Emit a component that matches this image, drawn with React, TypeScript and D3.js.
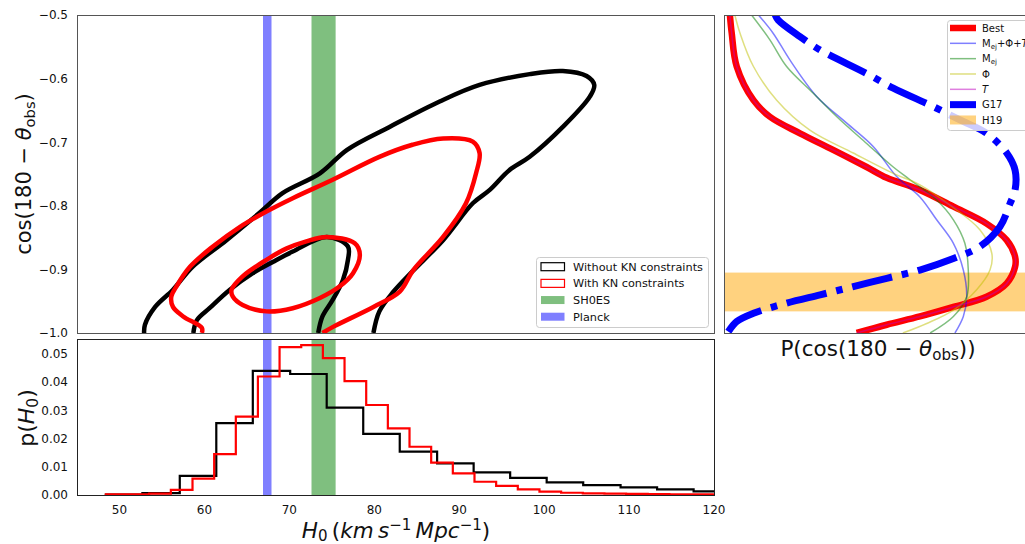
import React, { useEffect, useRef } from "react";
import * as d3 from "d3";

// ---- H0 histograms (bin edges, density) ----
const edgesNoKN = [48.4, 52.7, 57.1, 61.4, 65.7, 70.1, 74.4, 78.7, 83.0, 87.4, 91.7, 96.0, 100.3, 104.6, 109.0, 113.3, 117.6, 122.0];
const densNoKN = [0.0001, 0.0007, 0.0068, 0.0255, 0.044, 0.0429, 0.031, 0.0217, 0.0154, 0.0112, 0.008, 0.0061, 0.0045, 0.0035, 0.0027, 0.002, 0.0013];
const edgesKN = [48.4, 50.95, 53.5, 56.05, 58.6, 61.15, 63.7, 66.3, 68.85, 71.4, 73.95, 76.5, 79.05, 81.6, 84.15, 86.7, 89.25, 91.8, 94.35, 96.9, 99.45, 102.0, 104.55, 107.1, 109.65, 112.2, 114.75, 117.3, 119.85, 122.4];
const densKN = [0.0002, 0.0002, 0.0005, 0.0018, 0.0058, 0.0145, 0.0278, 0.042, 0.0524, 0.0531, 0.0485, 0.0404, 0.0319, 0.0236, 0.0171, 0.0115, 0.0077, 0.0047, 0.0032, 0.002, 0.0012, 0.0008, 0.0006, 0.0005, 0.0004, 0.0003, 0.0002, 0.0002, 0.0001];

// ---- 2D contours [H0, cos(180 - theta_obs)] ----
const outerNoKN: [number, number][] = [
  [52.9, -1.0], [53.0, -0.987], [54.2, -0.959], [56.3, -0.932], [58.6, -0.896], [62.6, -0.854],
  [66.5, -0.811], [69.2, -0.78], [73.6, -0.749], [76.8, -0.712], [81.8, -0.676], [87.7, -0.636],
  [92.4, -0.61], [98.3, -0.593], [102.2, -0.588], [105.0, -0.596], [105.9, -0.61], [105.4, -0.628],
  [102.2, -0.676], [98.3, -0.723], [95.9, -0.744], [93.6, -0.775], [91.6, -0.796], [88.1, -0.854],
  [84.5, -0.903], [82.2, -0.936], [80.6, -0.966], [79.9, -1.0],
];
const innerNoKN: [number, number][] = [
  [58.7, -1.0], [59.1, -0.98], [60.6, -0.961], [63.0, -0.932], [65.7, -0.906], [68.1, -0.888],
  [70.4, -0.872], [74.4, -0.849], [76.9, -0.864], [76.9, -0.885], [76.3, -0.917], [75.1, -0.948],
  [73.9, -0.974], [73.4, -1.0],
];
const outerKN: [number, number][] = [
  [59.7, -1.0], [59.7, -0.992], [57.5, -0.974], [56.3, -0.959], [56.1, -0.943], [56.7, -0.927],
  [58.3, -0.896], [61.0, -0.864], [64.2, -0.833], [67.3, -0.809], [70.4, -0.788], [75.1, -0.759],
  [80.6, -0.723], [84.5, -0.704], [88.1, -0.694], [91.6, -0.699], [92.4, -0.717], [92.0, -0.748],
  [90.8, -0.796], [88.1, -0.849], [84.6, -0.901], [83.0, -0.935], [79.9, -0.959], [75.2, -0.99],
  [73.9, -1.0],
];
const innerKN: [number, number][] = [
  [63.35, -0.943], [63.2, -0.932], [64.5, -0.911], [67.3, -0.885], [69.7, -0.867], [72.0, -0.856],
  [74.4, -0.849], [77.7, -0.859], [78.3, -0.877], [77.5, -0.906], [75.9, -0.927], [73.6, -0.945],
  [70.4, -0.961], [67.3, -0.966], [64.5, -0.956],
];

const planckBand = [66.9, 67.9];
const shoesBand = [72.61, 75.45];

// ---- right panel: [cos, P] (arbitrary P units) ----
const pBest: [number, number][] = [
  [-0.5, 0.019], [-0.529, 0.025], [-0.581, 0.041], [-0.634, 0.095], [-0.66, 0.148], [-0.686, 0.245],
  [-0.712, 0.352], [-0.739, 0.46], [-0.756, 0.525], [-0.775, 0.632], [-0.801, 0.739], [-0.828, 0.847],
  [-0.854, 0.912], [-0.88, 0.939], [-0.896, 0.939], [-0.922, 0.912], [-0.943, 0.847], [-0.959, 0.74],
  [-0.974, 0.632], [-0.987, 0.525], [-1.0, 0.428],
];
const pAll: [number, number][] = [
  [-0.5, 0.111], [-0.529, 0.159], [-0.571, 0.213], [-0.628, 0.299], [-0.67, 0.396], [-0.707, 0.482],
  [-0.754, 0.557], [-0.786, 0.632], [-0.822, 0.686], [-0.859, 0.74], [-0.901, 0.772], [-0.943, 0.783],
  [-0.974, 0.772], [-1.0, 0.745],
];
const pMej: [number, number][] = [
  [-0.5, 0.089], [-0.539, 0.148], [-0.581, 0.202], [-0.623, 0.288], [-0.66, 0.364], [-0.702, 0.46],
  [-0.739, 0.546], [-0.759, 0.6], [-0.791, 0.686], [-0.822, 0.74], [-0.859, 0.777], [-0.901, 0.788],
  [-0.943, 0.783], [-0.974, 0.74], [-1.0, 0.665],
];
const pPhi: [number, number][] = [
  [-0.5, 0.035], [-0.529, 0.052], [-0.581, 0.095], [-0.634, 0.17], [-0.681, 0.277], [-0.717, 0.417],
  [-0.749, 0.546], [-0.767, 0.632], [-0.799, 0.729], [-0.838, 0.826], [-0.875, 0.864], [-0.901, 0.858],
  [-0.932, 0.815], [-0.964, 0.74], [-0.985, 0.654], [-1.0, 0.577],
];
const pT = pBest; // the T-only curve sits on top of the best fit
const pG17: [number, number][] = [
  [-0.5, 0.165], [-0.508, 0.175], [-0.534, 0.245], [-0.555, 0.31], [-0.592, 0.46], [-0.615, 0.546],
  [-0.644, 0.675], [-0.665, 0.761], [-0.686, 0.847], [-0.717, 0.912], [-0.744, 0.939], [-0.775, 0.939],
  [-0.796, 0.923], [-0.833, 0.89], [-0.864, 0.826], [-0.883, 0.74], [-0.901, 0.632], [-0.914, 0.525],
  [-0.927, 0.417], [-0.94, 0.31], [-0.953, 0.202], [-0.969, 0.095], [-0.982, 0.041], [-0.998, 0.014],
];
const h19Band = [-0.966, -0.905];

const xTicks = [50, 60, 70, 80, 90, 100, 110, 120];
const cosTicks = [-0.5, -0.6, -0.7, -0.8, -0.9, -1.0];
const densTicks = [0, 0.01, 0.02, 0.03, 0.04, 0.05];

type Part = { t: string; it?: boolean; sub?: boolean; sup?: boolean };

const FONT = "DejaVu Sans";

function addParts(text: any, parts: Part[], size: number, subK = 0.2, supK = 0.4) {
  let shift = 0;
  parts.forEach((p) => {
    const target = p.sub ? subK * size : p.sup ? -supK * size : 0;
    const ts = text.append("tspan").attr("dy", target - shift).text(p.t);
    shift = target;
    if (p.it) ts.attr("font-style", "italic");
    if (p.sub || p.sup) ts.attr("font-size", size * 0.7);
  });
}

const App = () => {
  const ref = useRef<HTMLDivElement>(null);

  useEffect(() => {
    d3.select(ref.current).select("svg").remove();

    const svg = d3
      .select(ref.current)
      .append("svg")
      .attr("width", 1025)
      .attr("height", 544)
      .style("font-family", FONT)
      .style("background", "#fff");

    // panel boxes
    const mainBox = { x0: 77, x1: 714, y0: 15, y1: 333 };
    const histBox = { x0: 77, x1: 714, y0: 339, y1: 495 };
    const sideBox = { x0: 724, x1: 1034, y0: 15, y1: 333 };

    const x = d3.scaleLinear().domain([45, 120]).range([mainBox.x0, mainBox.x1]);
    const yCos = d3.scaleLinear().domain([-1, -0.5]).range([mainBox.y1, mainBox.y0]);
    const yDen = d3.scaleLinear().domain([0, 0.0553]).range([histBox.y1, histBox.y0]);
    const xP = d3.scaleLinear().domain([0, 1]).range([sideBox.x0, sideBox.x1]);

    const defs = svg.append("defs");
    const clip = (id: string, b: any) =>
      defs.append("clipPath").attr("id", id).append("rect")
        .attr("x", b.x0).attr("y", b.y0).attr("width", b.x1 - b.x0).attr("height", b.y1 - b.y0);
    clip("clipMain", mainBox);
    clip("clipHist", histBox);
    clip("clipSide", sideBox);

    // ---------- main contour panel ----------
    const gMain = svg.append("g").attr("clip-path", "url(#clipMain)");
    const band = (g: any, b: number[], color: string, box: any) =>
      g.append("rect")
        .attr("x", x(b[0])).attr("width", x(b[1]) - x(b[0]))
        .attr("y", box.y0).attr("height", box.y1 - box.y0)
        .attr("fill", color).attr("fill-opacity", 0.5);
    band(gMain, shoesBand, "green", mainBox);
    band(gMain, planckBand, "blue", mainBox);

    const contour = d3.line<[number, number]>()
      .x((d) => x(d[0])).y((d) => yCos(d[1]))
      .curve(d3.curveCatmullRom.alpha(0.5));
    const contourClosed = d3.line<[number, number]>()
      .x((d) => x(d[0])).y((d) => yCos(d[1]))
      .curve(d3.curveCatmullRomClosed.alpha(0.5));

    [
      { d: outerNoKN, c: "black", closed: false },
      { d: innerNoKN, c: "black", closed: false },
      { d: outerKN, c: "red", closed: false },
      { d: innerKN, c: "red", closed: true },
    ].forEach((s) => {
      gMain.append("path")
        .attr("d", (s.closed ? contourClosed : contour)(s.d))
        .attr("fill", "none").attr("stroke", s.c)
        .attr("stroke-width", 4.5).attr("stroke-linejoin", "round");
    });

    // ---------- histogram panel ----------
    const gHist = svg.append("g").attr("clip-path", "url(#clipHist)");
    band(gHist, shoesBand, "green", histBox);
    band(gHist, planckBand, "blue", histBox);

    const stepPts = (edges: number[], dens: number[]) => {
      const pts: [number, number][] = [[edges[0], 0]];
      dens.forEach((v, i) => {
        pts.push([edges[i], v]);
        pts.push([edges[i + 1], v]);
      });
      pts.push([edges[edges.length - 1], 0]);
      return pts;
    };
    const histLine = d3.line<[number, number]>().x((d) => x(d[0])).y((d) => yDen(d[1]));
    gHist.append("path").attr("d", histLine(stepPts(edgesNoKN, densNoKN)))
      .attr("fill", "none").attr("stroke", "black").attr("stroke-width", 2.2);
    gHist.append("path").attr("d", histLine(stepPts(edgesKN, densKN)))
      .attr("fill", "none").attr("stroke", "red").attr("stroke-width", 2.2);

    // ---------- side panel ----------
    const gSide = svg.append("g").attr("clip-path", "url(#clipSide)");
    gSide.append("rect")
      .attr("x", sideBox.x0).attr("width", sideBox.x1 - sideBox.x0)
      .attr("y", yCos(h19Band[1])).attr("height", yCos(h19Band[0]) - yCos(h19Band[1]))
      .attr("fill", "orange").attr("fill-opacity", 0.5);

    const sideLine = d3.line<[number, number]>()
      .x((d) => xP(d[1])).y((d) => yCos(d[0]))
      .curve(d3.curveCatmullRom.alpha(0.5));

    const sideSeries = [
      { d: pBest, c: "red", w: 6.5, o: 1, dash: null },
      { d: pAll, c: "blue", w: 1.5, o: 0.5, dash: null },
      { d: pMej, c: "green", w: 1.5, o: 0.5, dash: null },
      { d: pPhi, c: "#bfbf00", w: 1.5, o: 0.5, dash: null },
      { d: pT, c: "#bf00bf", w: 1.5, o: 0.5, dash: null },
      { d: pG17, c: "blue", w: 7, o: 1, dash: "41,10,6.5,10" },
    ];
    sideSeries.forEach((s) => {
      const p = gSide.append("path").attr("d", sideLine(s.d))
        .attr("fill", "none").attr("stroke", s.c)
        .attr("stroke-opacity", s.o).attr("stroke-width", s.w);
      if (s.dash) p.attr("stroke-dasharray", s.dash);
    });

    // ---------- frames ----------
    const frame = (b: any, color: string, openRight = false) => {
      const g = svg.append("g").attr("stroke", color).attr("stroke-width", 1).attr("fill", "none");
      g.append("line").attr("x1", b.x0).attr("x2", b.x1).attr("y1", b.y0 + 0.5).attr("y2", b.y0 + 0.5);
      g.append("line").attr("x1", b.x0).attr("x2", b.x1).attr("y1", b.y1 + 0.5).attr("y2", b.y1 + 0.5);
      g.append("line").attr("x1", b.x0 + 0.5).attr("x2", b.x0 + 0.5).attr("y1", b.y0).attr("y2", b.y1 + 1);
      if (!openRight) g.append("line").attr("x1", b.x1 + 0.5).attr("x2", b.x1 + 0.5).attr("y1", b.y0).attr("y2", b.y1 + 1);
    };
    frame(mainBox, "#555");
    frame(histBox, "#222");
    frame(sideBox, "#555", true);

    // ---------- tick labels ----------
    const tick = svg.append("g").attr("font-size", 12).attr("fill", "#111");
    cosTicks.forEach((v) => {
      tick.append("text").attr("x", 68).attr("y", yCos(v) + 4.3)
        .attr("text-anchor", "end").text(d3.format(".1f")(v));
    });
    densTicks.forEach((v) => {
      tick.append("text").attr("x", 68).attr("y", yDen(v) + 4.3)
        .attr("text-anchor", "end").text(d3.format(".2f")(v));
    });
    xTicks.forEach((v) => {
      tick.append("text").attr("x", x(v)).attr("y", 514)
        .attr("text-anchor", "middle").text(d3.format("d")(v));
    });

    // ---------- axis labels ----------
    const label = (tx: number, ty: number, rot: number, parts: Part[], size = 20, supK = 0.4) => {
      const t = svg.append("text")
        .attr("transform", `translate(${tx},${ty}) rotate(${rot})`)
        .attr("text-anchor", "middle").attr("font-size", size)
        .style("white-space", "pre").attr("fill", "#111");
      addParts(t, parts, size, 0.18, supK);
    };
    label(31, 174, -90, [
      { t: "cos(180 − " }, { t: "θ", it: true }, { t: "obs", sub: true }, { t: ")" },
    ], 21);
    label(34, 418, -90, [
      { t: "p(" }, { t: "H", it: true }, { t: "0", sub: true }, { t: ")" },
    ], 22);
    label(396, 537.5, 0, [
      { t: "H", it: true }, { t: "0", sub: true }, { t: "\u2009(" }, { t: "km\u2009s", it: true },
      { t: "−1", sup: true }, { t: "\u2009Mpc", it: true }, { t: "−1", sup: true }, { t: ")" },
    ], 21.5, 0.33);
    label(878, 356, 0, [
      { t: "P(cos(180 − " }, { t: "θ", it: true }, { t: "obs", sub: true }, { t: "))" },
    ], 21.5);

    // ---------- main legend ----------
    const lg = svg.append("g");
    lg.append("rect").attr("x", 536.5).attr("y", 257.5).attr("width", 172).attr("height", 70)
      .attr("rx", 3).attr("fill", "white").attr("fill-opacity", 0.8).attr("stroke", "#ccc");
    const mainEntries = [
      { label: "Without KN constraints", fill: "white", stroke: "black", op: 1 },
      { label: "With KN constraints", fill: "white", stroke: "red", op: 1 },
      { label: "SH0ES", fill: "green", stroke: "none", op: 0.5 },
      { label: "Planck", fill: "blue", stroke: "none", op: 0.5 },
    ];
    mainEntries.forEach((e, i) => {
      const cy = 266.7 + i * 16.67;
      lg.append("rect").attr("x", 541).attr("y", cy - 4).attr("width", 23.5).attr("height", 8)
        .attr("fill", e.fill).attr("fill-opacity", e.op).attr("stroke", e.stroke).attr("stroke-width", 1.2);
      lg.append("text").attr("x", 573).attr("y", cy + 4).attr("font-size", 11.3)
        .attr("fill", "#111").text(e.label);
    });

    // ---------- side legend ----------
    const sg = svg.append("g");
    sg.append("rect").attr("x", 947.5).attr("y", 20.5).attr("width", 100).attr("height", 110)
      .attr("rx", 3).attr("fill", "white").attr("fill-opacity", 0.8).attr("stroke", "#ccc");
    const sideEntries: { parts: Part[]; kind: string; c: string; w: number; o: number }[] = [
      { parts: [{ t: "Best" }], kind: "line", c: "red", w: 6.5, o: 1 },
      { parts: [{ t: "M" }, { t: "ej", sub: true }, { t: "+Φ+" }, { t: "T", it: true }], kind: "line", c: "blue", w: 1.5, o: 0.5 },
      { parts: [{ t: "M" }, { t: "ej", sub: true }], kind: "line", c: "green", w: 1.5, o: 0.5 },
      { parts: [{ t: "Φ" }], kind: "line", c: "#bfbf00", w: 1.5, o: 0.5 },
      { parts: [{ t: "T", it: true }], kind: "line", c: "#bf00bf", w: 1.5, o: 0.5 },
      { parts: [{ t: "G17" }], kind: "line", c: "blue", w: 7, o: 1 },
      { parts: [{ t: "H19" }], kind: "patch", c: "orange", w: 0, o: 0.5 },
    ];
    sideEntries.forEach((e, i) => {
      const cy = 28 + i * 15.33;
      if (e.kind === "line") {
        sg.append("line").attr("x1", 950).attr("x2", 976).attr("y1", cy).attr("y2", cy)
          .attr("stroke", e.c).attr("stroke-opacity", e.o).attr("stroke-width", e.w);
      } else {
        sg.append("rect").attr("x", 950).attr("y", cy - 4.5).attr("width", 26).attr("height", 9)
          .attr("fill", e.c).attr("fill-opacity", e.o);
      }
      const t = sg.append("text").attr("x", 982).attr("y", cy + 3.6).attr("font-size", 10)
        .attr("fill", "#111").style("white-space", "pre");
      addParts(t, e.parts, 10);
    });
  }, []);

  return <div ref={ref} style={{ position: "absolute", left: 0, top: 0 }}></div>;
};

export default App;
